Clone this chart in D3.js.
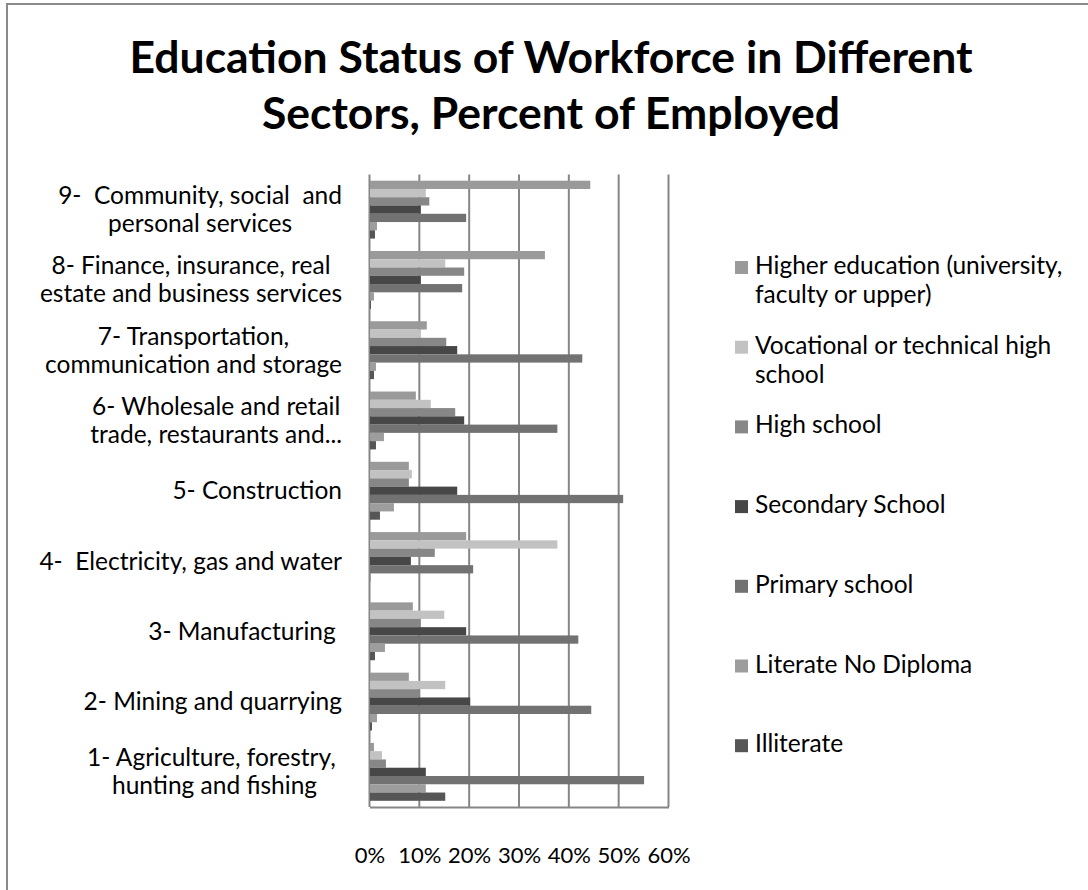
<!DOCTYPE html>
<html>
<head>
<meta charset="utf-8">
<script src="https://cdn.jsdelivr.net/npm/d3@7"></script>
<style>
  html, body { margin: 0; padding: 0; background: #fff; }
  svg { display: block; font-family: Lato, "Open Sans", sans-serif; }
  text { white-space: pre; }
</style>
</head>
<body>
<svg id="chart" width="1088" height="890"></svg>
<script>
// Sectors, listed top to bottom as they appear on the category axis
const sectors = [
  ["9-  Community, social  and", "personal services"],
  ["8- Finance, insurance, real", "estate and business services"],
  ["7- Transportation,", "communication and storage"],
  ["6- Wholesale and retail", "trade, restaurants and..."],
  ["5- Construction"],
  ["4-  Electricity, gas and water"],
  ["3- Manufacturing "],
  ["2- Mining and quarrying"],
  ["1- Agriculture, forestry, ", "hunting and fishing"]
];

// Education levels (series), in legend order
const levels = [
  ["Higher education (university,", "faculty or upper)"],
  ["Vocational or technical high", "school"],
  ["High school"],
  ["Secondary School"],
  ["Primary school"],
  ["Literate No Diploma"],
  ["Illiterate"]
];

// Percent of employed, one array per education level, sectors in the order above
const higherEd   = [44.3, 35.2, 11.5,  9.3,  7.9, 19.4,  8.7,  7.9,  0.9];
const vocational = [11.3, 15.2, 10.3, 12.3,  8.5, 37.7, 15.0, 15.2,  2.5];
const highSchool = [12.0, 19.0, 15.4, 17.2,  7.9, 13.1, 10.3, 10.1,  3.3];
const secondary  = [10.3, 10.3, 17.6, 19.0, 17.6,  8.3, 19.4, 20.2, 11.3];
const primary    = [19.4, 18.6, 42.7, 37.7, 50.9, 20.8, 41.9, 44.5, 55.1];
const literate   = [ 1.5,  0.9,  1.3,  2.9,  4.9,  0.3,  3.1,  1.5, 11.3];
const illiterate = [ 1.1,  0.3,  0.9,  1.3,  2.1,  0.1,  1.1,  0.5, 15.2];

const seriesValues = [higherEd, vocational, highSchool, secondary, primary, literate, illiterate];
const seriesColors = ["#9a9a9a", "#c2c2c2", "#878787", "#474747", "#727272", "#9d9d9d", "#565656"];

const tickValues = [0, 10, 20, 30, 40, 50, 60];
const tickLabels = ["0%", "10%", "20%", "30%", "40%", "50%", "60%"];

const titleLines = ["Education Status of Workforce in Different", "Sectors, Percent of Employed"];

const svg = d3.select("#chart");
const W = 1088, H = 890;

// Outer chart frame
svg.append("rect")
  .attr("x", 7).attr("y", 4)
  .attr("width", W + 20).attr("height", H + 20)
  .attr("fill", "#fff")
  .attr("stroke", "#8a8a8a").attr("stroke-width", 2);

// Title
svg.append("g").selectAll("text")
  .data(titleLines)
  .join("text")
  .attr("x", 551)
  .attr("y", (d, i) => 73 + i * 56)
  .attr("text-anchor", "middle")
  .attr("font-weight", "bold")
  .attr("font-size", 44.5)
  .attr("fill", "#000")
  .text(d => d);

// Plot area
const plot = { left: 369.5, right: 668.5, top: 174.5, bottom: 807 };

const x = d3.scaleLinear().domain([0, 60]).range([plot.left, plot.right]);
const y = d3.scaleBand()
  .domain(d3.range(sectors.length))
  .range([plot.top, plot.bottom])
  .paddingInner(0).paddingOuter(0);
const ySeries = d3.scaleBand()
  .domain(d3.range(levels.length))
  .range([0, y.bandwidth()])
  .paddingInner(0).paddingOuter(0.75);

// Vertical gridlines
svg.append("g").selectAll("line")
  .data(tickValues)
  .join("line")
  .attr("x1", d => x(d)).attr("x2", d => x(d))
  .attr("y1", plot.top).attr("y2", plot.bottom)
  .attr("stroke", "#868686").attr("stroke-width", 2);

// Bars
const groups = svg.append("g").selectAll("g")
  .data(sectors.map((s, i) => i))
  .join("g")
  .attr("transform", i => `translate(0,${y(i)})`);

groups.selectAll("rect")
  .data(i => seriesValues.map((vals, s) => ({ s, v: vals[i] })))
  .join("rect")
  .attr("x", x(0) + 0.5)
  .attr("y", d => ySeries(d.s))
  .attr("width", d => Math.max(0, x(d.v) - x(0) - 0.5))
  .attr("height", ySeries.bandwidth())
  .attr("fill", d => seriesColors[d.s]);

// Value axis along the bottom
const xAxis = d3.axisBottom(x)
  .tickValues(tickValues)
  .tickFormat((d, i) => tickLabels[i])
  .tickSize(0)
  .tickPadding(40);
const gx = svg.append("g")
  .attr("transform", `translate(0,${plot.bottom})`)
  .call(xAxis);
gx.select(".domain").attr("stroke", "#868686").attr("stroke-width", 2);
gx.selectAll("text")
  .attr("font-family", "Lato, sans-serif")
  .attr("font-size", 22)
  .attr("fill", "#000");

// Category labels: each block right aligned to the axis, lines centered in the block
const labelSize = 24.5, labelLead = 28, labelRight = 342;
const labelG = svg.append("g").attr("font-size", labelSize).attr("fill", "#000");
sectors.forEach((lines, i) => {
  const t = labelG.append("text").attr("text-anchor", "middle");
  const cy = y(i) + y.bandwidth() / 2;
  const top = cy - (lines.length - 1) * labelLead / 2;
  const spans = lines.map((ln, k) => t.append("tspan")
    .attr("y", top + k * labelLead)
    .attr("dy", "0.35em")
    .text(ln));
  const widths = spans.map(sp => sp.node().getComputedTextLength());
  const blockW = d3.max(widths);
  spans.forEach(sp => sp.attr("x", labelRight - blockW / 2));
});

// Legend: entries top aligned in equal slots
const legend = svg.append("g").attr("font-size", labelSize).attr("fill", "#000");
const legTop = 255, legStep = 79.7, legLead = 29;
levels.forEach((lines, i) => {
  const g = legend.append("g").attr("transform", `translate(735,${legTop + i * legStep})`);
  g.append("rect")
    .attr("x", 0).attr("y", 6)
    .attr("width", 13).attr("height", 13)
    .attr("fill", seriesColors[i]);
  const t = g.append("text");
  lines.forEach((ln, k) => t.append("tspan")
    .attr("x", 20)
    .attr("y", 19 + k * legLead)
    .text(ln));
});
</script>
</body>
</html>
